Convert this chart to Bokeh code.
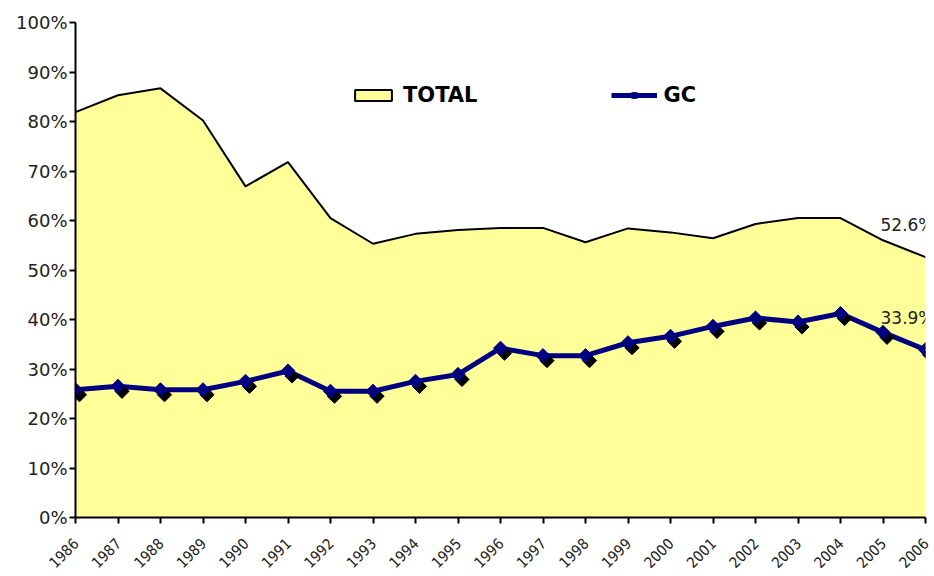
from math import pi
from bokeh.plotting import figure
from bokeh.models import (Range1d, FixedTicker, PrintfTickFormatter, Legend,
                          LegendItem, Label)
from bokeh.embed import file_html
from bokeh.resources import INLINE

years = list(range(1986, 2007))
total = [81.9, 85.3, 86.7, 80.2, 66.9, 71.8, 60.5, 55.3, 57.3, 58.1, 58.5,
         58.5, 55.6, 58.4, 57.6, 56.4, 59.3, 60.5, 60.5, 56.0, 52.6]
gc = [25.8, 26.5, 25.8, 25.8, 27.5, 29.6, 25.5, 25.5, 27.5, 28.9, 34.2,
      32.7, 32.7, 35.3, 36.6, 38.6, 40.3, 39.5, 41.2, 37.4, 33.9]
y_ticks = list(range(0, 101, 10))
series_names = ["TOTAL", "GC"]

FRAME_W, FRAME_H = 850, 495
p = figure(width=934, height=576, output_backend="svg", toolbar_location=None,
           x_range=Range1d(years[0], years[-1]), y_range=Range1d(0, 100),
           min_border_left=75, min_border_right=9, min_border_top=22,
           min_border_bottom=59)
p.outline_line_color = None
p.xgrid.visible = False
p.ygrid.visible = False
p.background_fill_color = "white"

# pixel -> data scale for the shadow offset of the markers
px_x = (years[-1] - years[0]) / FRAME_W
px_y = 100 / FRAME_H
shadow_x = [x + 4 * px_x for x in years]
shadow_y = [v - 5 * px_y for v in gc]

area = p.varea(x=years, y1=0, y2=total, fill_color="#FFFF99")
p.line(x=years, y=total, line_color="black", line_width=2)
nan = float("nan")
legend_box = p.quad(left=[nan], right=[nan], top=[nan], bottom=[nan],
                    fill_color="#FFFF99", line_color="black", line_width=2)

gc_line = p.line(x=years, y=gc, line_color="#000080", line_width=5)
p.scatter(x=shadow_x, y=shadow_y, marker="square", angle=pi / 4, size=10,
          fill_color="black", line_color="black")
gc_pts = p.scatter(x=years, y=gc, marker="square", angle=pi / 4, size=10,
                   fill_color="#000080", line_color="#000080")

# axes
for ax in (p.xaxis[0], p.yaxis[0]):
    ax.axis_line_color = "black"
    ax.axis_line_width = 2
    ax.major_tick_line_color = "black"
    ax.major_tick_line_width = 2
    ax.major_tick_out = 6
    ax.major_tick_in = 0
    ax.minor_tick_line_color = None
    ax.major_label_text_color = "#222222"

p.yaxis.ticker = FixedTicker(ticks=y_ticks)
p.yaxis.formatter = PrintfTickFormatter(format="%d%%")
p.yaxis.major_label_text_font = "DejaVu Sans"
p.yaxis.major_label_text_font_size = "18px"
p.yaxis.major_label_standoff = 2

p.xaxis.ticker = FixedTicker(ticks=years)
p.xaxis.major_label_orientation = pi / 4
p.xaxis.major_label_text_font = "DejaVu Sans Condensed"
p.xaxis.major_label_text_font_size = "15px"
p.xaxis.major_label_standoff = 17

legend = Legend(items=[
    LegendItem(label=series_names[0], renderers=[legend_box]),
    LegendItem(label=series_names[1], renderers=[gc_line, gc_pts]),
], orientation="horizontal", location=(275, 410), padding=0, margin=0,
    spacing=133, glyph_width=46, glyph_height=14, label_standoff=7,
    border_line_color=None, background_fill_alpha=0,
    label_text_font="DejaVu Sans", label_text_font_style="bold",
    label_text_font_size="21px", label_text_color="black")
p.add_layout(legend, "center")

for vals in (total, gc):
    p.add_layout(Label(x=years[-1], y=vals[-1], text=f"{vals[-1]}%",
                       x_offset=9, y_offset=22, text_align="right",
                       text_baseline="bottom", text_font="DejaVu Sans",
                       text_font_size="17px", text_color="#222222"))

open("out.html", "w").write(file_html(p, INLINE))
